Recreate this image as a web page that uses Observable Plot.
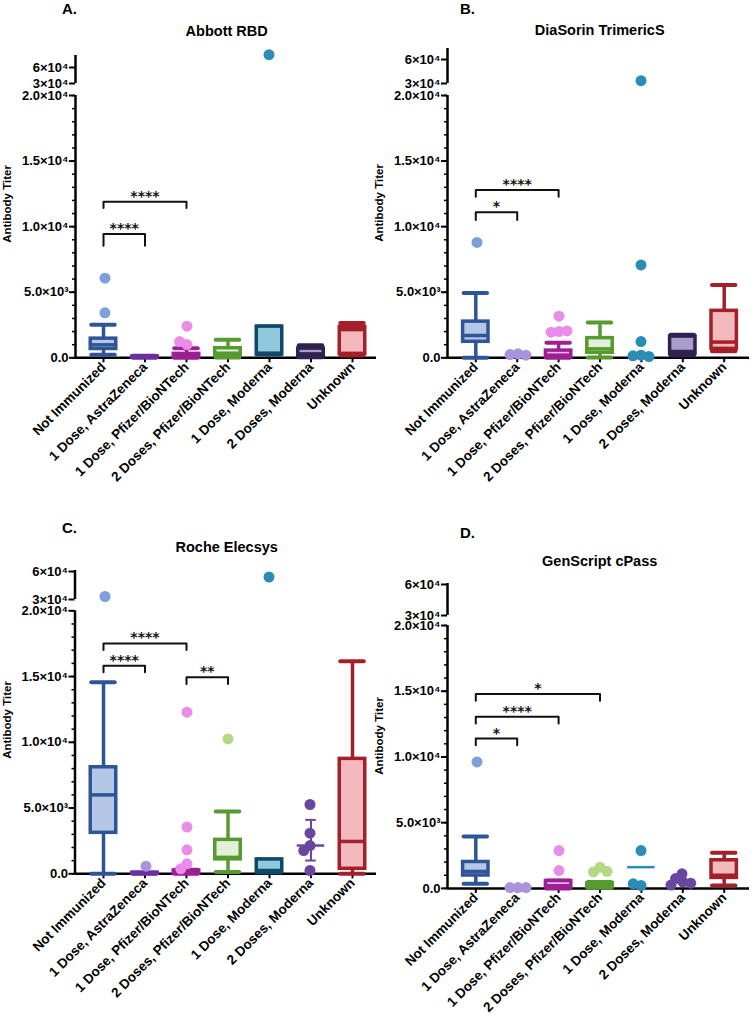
<!DOCTYPE html>
<html>
<head>
<meta charset="utf-8">
<script src="https://cdn.jsdelivr.net/npm/d3@7"></script>
<script src="https://cdn.jsdelivr.net/npm/@observablehq/plot@0.6"></script>
<style>
  body { margin: 0; background: #fff; }
  #page { position: relative; width: 754px; height: 1020px; overflow: hidden; background: #fff;
          font-family: "Liberation Sans", Arial, sans-serif; color: #000; }
  .t { position: absolute; white-space: nowrap; line-height: 1; font-weight: bold; }
  .letter { font-size: 15px; }
  .title { font-size: 14.5px; transform: translateX(-50%); }
  .ylab { font-size: 11.5px; transform: translate(-50%, -50%) rotate(-90deg); }
</style>
</head>
<body>
<div id="page"></div>
<script>
// ---------------- data ----------------
const categories = ["Not Immunized", "1 Dose, AstraZeneca", "1 Dose, Pfizer/BioNTech",
  "2 Doses, Pfizer/BioNTech", "1 Dose, Moderna", "2 Doses, Moderna", "Unknown"];
const strokeColors = ["#2f5597", "#6b2fa0", "#9c1f94", "#579a30", "#0f4868", "#31214f", "#a3202b"];
const fillColors   = ["#b4c7e7", "#c5b3e3", "#eeb5ec", "#e2efd9", "#90c8dc", "#a99dcc", "#f3b9bd"];
const pointColors  = ["#7f9fda", "#a993dc", "#ea8cea", "#b2da84", "#2b8db6", "#6a479f", "#c0392b"];

const yTickValues = [0, 5000, 10000, 15000, 20000, 30000, 60000];
const yTickLabels = ["0.0", "5.0×10³", "1.0×10⁴", "1.5×10⁴", "2.0×10⁴", "3×10⁴", "6×10⁴"];
const yAxisTitle = "Antibody Titer";

// boxes: [category, low whisker, Q1, median, Q3, high whisker]
// points: [category, value]; sig: [from, to, bracket foot, bracket level, label]
// lines: [category, centre, low, high]
const abbottTitle = "Abbott RBD";
const abbottBoxes = [
  ["Not Immunized", 230, 670, 990, 1460, 2520],
  ["1 Dose, AstraZeneca", 0, 10, 40, 90, 150],
  ["1 Dose, Pfizer/BioNTech", 0, 20, 80, 300, 730],
  ["2 Doses, Pfizer/BioNTech", 20, 150, 350, 730, 1370],
  ["1 Dose, Moderna", 250, 250, 350, 2380, 2380],
  ["2 Doses, Moderna", 50, 100, 300, 700, 950],
  ["Unknown", 170, 300, 2150, 2350, 2650]
];
const abbottPoints = [
  ["Not Immunized", 6070], ["Not Immunized", 3430],
  ["1 Dose, Pfizer/BioNTech", 2410], ["1 Dose, Pfizer/BioNTech", 1010], ["1 Dose, Pfizer/BioNTech", 1240],
  ["1 Dose, Moderna", 84000]
];
const abbottLines = [];
const abbottSig = [
  ["Not Immunized", "1 Dose, AstraZeneca", 8550, 9440, "****"],
  ["Not Immunized", "1 Dose, Pfizer/BioNTech", 11420, 11900, "****"]
];

const diasorinTitle = "DiaSorin TrimericS";
const diasorinBoxes = [
  ["Not Immunized", 0, 1220, 1700, 2760, 4950],
  ["1 Dose, Pfizer/BioNTech", 0, 50, 200, 550, 1140],
  ["2 Doses, Pfizer/BioNTech", 30, 380, 680, 1500, 2700],
  ["2 Doses, Moderna", 175, 300, 480, 1620, 1750],
  ["Unknown", 500, 680, 1200, 3580, 5550]
];
const diasorinPoints = [
  ["Not Immunized", 8800],
  ["1 Dose, AstraZeneca", 300], ["1 Dose, AstraZeneca", 250], ["1 Dose, AstraZeneca", 200],
  ["1 Dose, Pfizer/BioNTech", 3170], ["1 Dose, Pfizer/BioNTech", 2000],
  ["1 Dose, Pfizer/BioNTech", 1950], ["1 Dose, Pfizer/BioNTech", 2050],
  ["1 Dose, Moderna", 33500], ["1 Dose, Moderna", 7080], ["1 Dose, Moderna", 1240],
  ["1 Dose, Moderna", 200], ["1 Dose, Moderna", 150], ["1 Dose, Moderna", 100]
];
const diasorinLines = [];
const diasorinSig = [
  ["Not Immunized", "1 Dose, AstraZeneca", 10510, 11090, "*"],
  ["Not Immunized", "1 Dose, Pfizer/BioNTech", 12280, 12790, "****"]
];

const rocheTitle = "Roche Elecsys";
const rocheBoxes = [
  ["Not Immunized", 0, 3115, 6000, 8100, 14560],
  ["1 Dose, AstraZeneca", 0, 0, 20, 80, 100],
  ["1 Dose, Pfizer/BioNTech", 0, 0, 50, 250, 300],
  ["2 Doses, Pfizer/BioNTech", 130, 1100, 1250, 2580, 4740],
  ["1 Dose, Moderna", 100, 100, 250, 1090, 1090],
  ["Unknown", 0, 380, 2460, 8740, 16160]
];
const rochePoints = [
  ["Not Immunized", 33200],
  ["1 Dose, AstraZeneca", 580],
  ["1 Dose, Pfizer/BioNTech", 12290], ["1 Dose, Pfizer/BioNTech", 3550], ["1 Dose, Pfizer/BioNTech", 1820],
  ["1 Dose, Pfizer/BioNTech", 760], ["1 Dose, Pfizer/BioNTech", 380],
  ["2 Doses, Pfizer/BioNTech", 10260],
  ["1 Dose, Moderna", 54000],
  ["2 Doses, Moderna", 5270], ["2 Doses, Moderna", 3090], ["2 Doses, Moderna", 2150],
  ["2 Doses, Moderna", 1770], ["2 Doses, Moderna", 250]
];
const rocheLines = [["2 Doses, Moderna", 2150, 1010, 4100]];
const rocheSig = [
  ["Not Immunized", "1 Dose, AstraZeneca", 15320, 15830, "****"],
  ["Not Immunized", "1 Dose, Pfizer/BioNTech", 17020, 17520, "****"],
  ["1 Dose, Pfizer/BioNTech", "2 Doses, Pfizer/BioNTech", 14440, 14940, "**"]
];

const genscriptTitle = "GenScript cPass";
const genscriptBoxes = [
  ["Not Immunized", 350, 980, 1290, 2010, 3950],
  ["1 Dose, Pfizer/BioNTech", 0, 80, 200, 560, 600],
  ["2 Doses, Pfizer/BioNTech", 50, 80, 200, 380, 480],
  ["Unknown", 220, 800, 1000, 2140, 2710]
];
const genscriptPoints = [
  ["Not Immunized", 9620],
  ["1 Dose, AstraZeneca", 60], ["1 Dose, AstraZeneca", 60], ["1 Dose, AstraZeneca", 60],
  ["1 Dose, Pfizer/BioNTech", 2880], ["1 Dose, Pfizer/BioNTech", 1360],
  ["2 Doses, Pfizer/BioNTech", 1600], ["2 Doses, Pfizer/BioNTech", 1250], ["2 Doses, Pfizer/BioNTech", 1300],
  ["1 Dose, Moderna", 2880], ["1 Dose, Moderna", 220], ["1 Dose, Moderna", 350],
  ["2 Doses, Moderna", 1110], ["2 Doses, Moderna", 750], ["2 Doses, Moderna", 500],
  ["2 Doses, Moderna", 400], ["2 Doses, Moderna", 250]
];
const genscriptLines = [["1 Dose, Moderna", 1616, null, null]];
const genscriptSig = [
  ["Not Immunized", "1 Dose, AstraZeneca", 10890, 11400, "*"],
  ["Not Immunized", "1 Dose, Pfizer/BioNTech", 12545, 13050, "****"],
  ["Not Immunized", "2 Doses, Pfizer/BioNTech", 14270, 14780, "*"]
];

// ---------------- layout (page pixels) ----------------
const layoutA = {left: 0,   svgTop: 40,  height: 460, spineX: 75,  bandL: 82.25, bandR: 372.75, axisEnd: 376,
  y0: 357.3, y20: 95, y30: 83, y60: 67, yTop: 55, letter: [62, 1.3], title: [226.7, 24.1], ylab: [8, 204]};
const layoutB = {left: 377, svgTop: 40,  height: 460, spineX: 447, bandL: 454.6, bandR: 744.4, axisEnd: 749,
  y0: 357.3, y20: 95, y30: 83, y60: 59, yTop: 48, letter: [460, 1.3], title: [599.7, 23.1], ylab: [380, 203]};
const layoutC = {left: 0,   svgTop: 555, height: 465, spineX: 74.5, bandL: 82.25, bandR: 372.75, axisEnd: 376,
  y0: 873.3, y20: 610.3, y30: 599, y60: 571, yTop: 570, letter: [62, 519.7], title: [226.7, 539.8], ylab: [8, 720]};
const layoutD = {left: 377, svgTop: 555, height: 465, spineX: 447, bandL: 454.6, bandR: 744.4, axisEnd: 749,
  y0: 887.9, y20: 625, y30: 615, y60: 584, yTop: 583, letter: [460, 524.7], title: [599.7, 554.1], ylab: [380, 736]};

const W = 377;
const page = document.getElementById("page");
const svgStyle = "background:transparent;overflow:visible;font-family:'Liberation Sans',Arial,sans-serif;color:#000;";

function addText(txt, cls, x, y) {
  const d = document.createElement("div");
  d.className = "t " + cls;
  d.textContent = txt;
  d.style.left = x + "px";
  d.style.top = y + "px";
  page.appendChild(d);
}
function place(svg, L) {
  svg.style.position = "absolute";
  svg.style.left = L.left + "px";
  svg.style.top = L.svgTop + "px";
  svg.style.maxWidth = "none";
  page.appendChild(svg);
}

function panel(letter, title, boxes, points, lines, sig, L) {
  const T = L.svgTop, X = L.left;
  const y0 = L.y0 - T, y20 = L.y20 - T, y30 = L.y30 - T, y60 = L.y60 - T, yTop = L.yTop - T;
  const s = (y0 - y20) / 20000;
  // broken axis: 0–2×10⁴ linear, then 3×10⁴ upward on a compressed segment
  const brk = v => v <= 20000 ? v : (y0 - (y30 - (v - 30000) * (y30 - y60) / 30000)) / s;
  const topVal = 30000 + (y30 - yTop) * 30000 / (y30 - y60);
  const bandL = L.bandL - X, bandR = L.bandR - X, spineX = L.spineX - X, axisEnd = L.axisEnd - X;
  const step = (bandR - bandL) / 7;
  const xSpine = -0.5 - (bandL - spineX) / step;
  const H = L.height;
  const yScale = {domain: [0, 20000], range: [y0, y20]};
  const idx = c => categories.indexOf(c);

  const B = boxes.map(([cat, lo, q1, med, q3, hi]) => ({i: idx(cat), lo, q1, med, q3, hi}));
  const caps = B.flatMap(d => [{i: d.i, v: d.lo}, {i: d.i, v: d.hi}]);
  const Ln = lines.map(([cat, c, lo, hi]) => ({i: idx(cat), c, lo, hi}));
  const LnBars = Ln.filter(d => d.lo != null);
  const LnCaps = LnBars.flatMap(d => [{i: d.i, v: d.lo}, {i: d.i, v: d.hi}]);
  const S = sig.map(([a, b, foot, lev, lab]) => ({a: idx(a), b: idx(b), foot, lev, lab}));
  const V = S.flatMap((d, k) => [
    {k, x: d.a, y: d.foot}, {k, x: d.a, y: d.lev}, {k, x: d.b, y: d.lev}, {k, x: d.b, y: d.foot}]);

  const majors = yTickValues.map((v, k) => [brk(v), yTickLabels[k]]);
  const labelOf = new Map(majors);
  const minors = d3.range(0, 20001, 1000);
  const dark = d => strokeColors[d.i];
  const light = d => fillColors[d.i];
  const pcol = d => pointColors[d.i];

  const main = Plot.plot({
    width: W, height: H, marginTop: yTop, marginBottom: H - y0,
    marginLeft: spineX, marginRight: W - axisEnd,
    style: svgStyle,
    x: {domain: [-0.5, 6.5], range: [bandL, bandR]},
    y: yScale,
    color: {type: "identity"},
    marks: [
      Plot.ruleX([[0, 20000], [30000, topVal]], {x: () => xSpine, y1: d => brk(d[0]), y2: d => brk(d[1]), stroke: "#000", strokeWidth: 2.5}),
      Plot.ruleY([0], {stroke: "#000", strokeWidth: 2.5}),
      Plot.axisY({ticks: minors, tickSize: 3, tickFormat: () => "", strokeWidth: 1.5, label: null}),
      Plot.axisY({ticks: majors.map(m => m[0]), tickSize: 6, tickPadding: 1, tickFormat: v => labelOf.get(v),
        fontSize: 13, fontWeight: "bold", strokeWidth: 2, label: null}),
      Plot.axisX({ticks: d3.range(7), tickFormat: i => categories[i], tickRotate: -45, tickSize: 5, tickPadding: 2,
        fontSize: 13.5, fontWeight: "bold", strokeWidth: 2, label: null}),
      // whiskers
      Plot.ruleX(B, {x: "i", y1: "lo", y2: "hi", stroke: dark, strokeWidth: 3.5}),
      Plot.ruleY(caps, {y: "v", x1: d => d.i - 0.5, x2: d => d.i + 0.5, insetLeft: 9, insetRight: 9,
        stroke: d => strokeColors[d.i], strokeWidth: 4, strokeLinecap: "round"}),
      // boxes
      Plot.rect(B, {x1: d => d.i - 0.5, x2: d => d.i + 0.5, y1: "q1", y2: "q3", insetLeft: 8, insetRight: 8,
        fill: light, stroke: dark, strokeWidth: 3.5}),
      Plot.ruleY(B, {y: "med", x1: d => d.i - 0.5, x2: d => d.i + 0.5, insetLeft: 8, insetRight: 8,
        stroke: dark, strokeWidth: 3.5}),
      // centre lines of scatter-only groups
      Plot.ruleX(LnBars, {x: "i", y1: "lo", y2: "hi", stroke: pcol, strokeWidth: 2}),
      Plot.ruleY(LnCaps, {y: "v", x1: d => d.i - 0.5, x2: d => d.i + 0.5, insetLeft: 15.5, insetRight: 15.5,
        stroke: pcol, strokeWidth: 2}),
      Plot.ruleY(Ln, {y: "c", x1: d => d.i - 0.5, x2: d => d.i + 0.5, insetLeft: 7, insetRight: 7,
        stroke: pcol, strokeWidth: 2.5}),
      // significance brackets
      Plot.line(V, {x: "x", y: "y", z: "k", stroke: "#111", strokeWidth: 2}),
      Plot.text(S, {x: d => (d.a + d.b) / 2, y: "lev", text: "lab", lineAnchor: "bottom", dy: -1,
        fontFamily: "DejaVu Sans", fontWeight: "bold", fontSize: 14, fill: "#111"})
    ]
  });
  place(main, L);

  const P = points.map(([cat, v]) => ({cat, v}));
  const dots = Plot.plot({
    width: W, height: H, marginTop: yTop, marginBottom: H - y0,
    marginLeft: bandL, marginRight: W - bandR,
    style: svgStyle,
    x: {axis: null},
    y: {...yScale, axis: null},
    fx: {domain: categories, padding: 0, axis: null},
    color: {type: "identity"},
    marks: [
      Plot.dot(P, Plot.dodgeX({anchor: "middle", padding: -3},
        {fx: "cat", y: d => brk(d.v), r: 5.5, fill: d => pointColors[idx(d.cat)], stroke: "none"}))
    ]
  });
  place(dots, L);

  addText(letter, "letter", L.letter[0], L.letter[1]);
  addText(title, "title", L.title[0], L.title[1]);
  addText(yAxisTitle, "ylab", L.ylab[0], L.ylab[1]);
}

panel("A.", abbottTitle, abbottBoxes, abbottPoints, abbottLines, abbottSig, layoutA);
panel("B.", diasorinTitle, diasorinBoxes, diasorinPoints, diasorinLines, diasorinSig, layoutB);
panel("C.", rocheTitle, rocheBoxes, rochePoints, rocheLines, rocheSig, layoutC);
panel("D.", genscriptTitle, genscriptBoxes, genscriptPoints, genscriptLines, genscriptSig, layoutD);
</script>
</body>
</html>
